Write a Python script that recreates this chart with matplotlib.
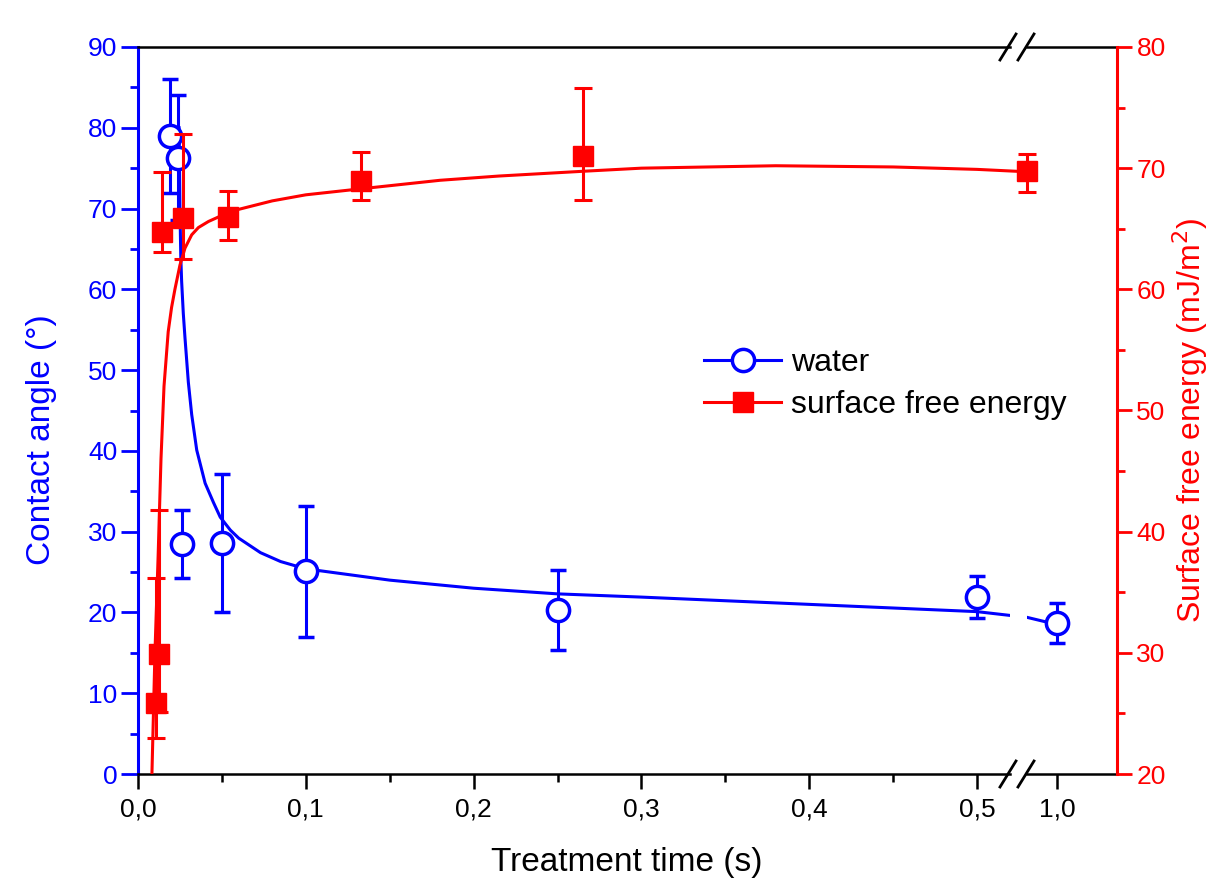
import numpy as np
import matplotlib.pyplot as plt
from matplotlib.lines import Line2D
from matplotlib.ticker import MultipleLocator, FixedLocator, FuncFormatter

plt.rcParams['font.family'] = ['Liberation Sans', 'DejaVu Sans']

# water contact angle (left axis, broken x axis)
water_t = [0.019, 0.024, 0.026, 0.05, 0.1, 0.25, 0.5, 1.0]
water_ca = [79.0, 76.3, 28.5, 28.6, 25.1, 20.3, 21.9, 18.7]
water_err = [7.1, 7.7, 4.2, 8.6, 8.1, 4.9, 2.6, 2.5]

# fit curve for water
water_fit_t = [0.0245, 0.025, 0.0255, 0.026, 0.027, 0.028, 0.030, 0.032, 0.035,
               0.040, 0.045, 0.049, 0.055, 0.060, 0.073, 0.085, 0.100, 0.150,
               0.200, 0.250, 0.300, 0.400, 0.500, 0.521, 0.982, 0.994, 1.0]
water_fit_ca = [80.0, 70.0, 64.0, 61.0, 57.0, 54.0, 48.5, 44.5, 40.1,
                36.0, 33.6, 31.8, 30.2, 29.2, 27.4, 26.3, 25.4, 24.0,
                23.0, 22.3, 21.9, 21.0, 20.1, 19.6, 19.4, 18.8, 18.7]

# surface free energy (right axis, drawn on its own continuous x scale)
sfe_t = [0.0107, 0.0127, 0.0141, 0.0270, 0.0538, 0.1329, 0.2654, 0.530]
sfe = [25.9, 29.9, 64.7, 65.9, 66.0, 68.9, 71.0, 69.8]
sfe_lo = [2.9, 4.8, 1.6, 3.4, 1.9, 1.5, 3.6, 1.8]
sfe_hi = [10.3, 11.9, 5.0, 6.9, 2.1, 2.4, 5.6, 1.4]

sfe_fit_t = [0.0083, 0.0101, 0.0120, 0.0137, 0.0155, 0.018, 0.020, 0.022,
             0.025, 0.028, 0.032, 0.036, 0.042, 0.050, 0.060, 0.080, 0.100,
             0.133, 0.180, 0.215, 0.266, 0.300, 0.380, 0.450, 0.500, 0.530]
sfe_fit = [20.0, 30.0, 38.0, 46.0, 52.0, 56.5, 58.5, 60.0,
           62.0, 63.4, 64.5, 65.1, 65.6, 66.1, 66.6, 67.3, 67.8,
           68.3, 69.0, 69.35, 69.75, 70.0, 70.2, 70.1, 69.9, 69.7]

xticks_left = [0.0, 0.1, 0.2, 0.3, 0.4, 0.5]
xticks_right = [1.0]

W, H = 1214, 885
PX = 1678.0  # pixels per unit of time
x0, x1, y0, y1 = 138, 1117, 47, 774
xl_end, xr_start = 1010, 1027


def rect(a, b):
    return [a / W, (H - y1) / H, (b - a) / W, (y1 - y0) / H]


blue = '#0000ff'
red = '#ff0000'
lw = 2.2
tick_fs = 19
label_fs = 24

fig = plt.figure(figsize=(W / 100, H / 100), dpi=100)
axL = fig.add_axes(rect(x0, xl_end))
axR = fig.add_axes(rect(xr_start, x1))
axE = fig.add_axes(rect(x0, x1))

comma = FuncFormatter(lambda v, p: ('%.1f' % v).replace('.', ','))

for ax in (axL, axR):
    ax.errorbar(water_t, water_ca, yerr=water_err, fmt='o', ms=16, mfc='white',
                mec=blue, mew=2.5, ecolor=blue, elinewidth=lw, capsize=6,
                capthick=lw, zorder=3)
    ax.plot(water_fit_t, water_fit_ca, color=blue, lw=lw, zorder=2)
    ax.set_ylim(0, 90)
    ax.spines['top'].set_linewidth(1.8)
    ax.spines['bottom'].set_linewidth(1.8)
    ax.spines['right'].set_visible(False)
    ax.xaxis.set_major_formatter(comma)
    ax.tick_params(axis='x', which='major', direction='out', length=11, width=1.8,
                   labelsize=tick_fs, pad=6)
    ax.tick_params(axis='x', which='minor', direction='out', length=6, width=1.8)
    ax.tick_params(top=False, which='both')
    ax.patch.set_visible(False)

axL.set_xlim(0, (xl_end - x0) / PX)
axL.xaxis.set_major_locator(FixedLocator(xticks_left))
axL.xaxis.set_minor_locator(MultipleLocator(0.05))
axL.spines['left'].set_color(blue)
axL.spines['left'].set_linewidth(2.2)
axL.yaxis.set_major_locator(MultipleLocator(10))
axL.yaxis.set_minor_locator(MultipleLocator(5))
axL.tick_params(axis='y', which='major', direction='out', length=12, width=2,
                colors=blue, labelsize=tick_fs, pad=3)
axL.tick_params(axis='y', which='minor', direction='out', length=6, width=2, colors=blue)

axR.set_xlim(1.0 - (1057 - xr_start) / PX, 1.0 + (x1 - 1057) / PX)
axR.xaxis.set_major_locator(FixedLocator(xticks_right))
axR.spines['left'].set_visible(False)
axR.tick_params(axis='y', which='both', left=False, labelleft=False)

# red series on a continuous overlay
axE.errorbar(sfe_t, sfe, yerr=[sfe_lo, sfe_hi], fmt='s', ms=14, color=red,
             ecolor=red, elinewidth=lw, capsize=6.5, capthick=lw, zorder=3)
axE.plot(sfe_fit_t, sfe_fit, color=red, lw=lw, zorder=2)
axE.set_xlim(0, (x1 - x0) / PX)
axE.set_ylim(20, 80)
axE.patch.set_visible(False)
for s in ('left', 'top', 'bottom'):
    axE.spines[s].set_visible(False)
axE.spines['right'].set_color(red)
axE.spines['right'].set_linewidth(2.2)
axE.set_xticks([])
axE.yaxis.tick_right()
axE.yaxis.set_major_locator(MultipleLocator(10))
axE.yaxis.set_minor_locator(MultipleLocator(5))
axE.tick_params(axis='y', which='major', direction='out', length=11, width=2,
                colors=red, labelsize=tick_fs, pad=3)
axE.tick_params(axis='y', which='minor', direction='out', length=6, width=2, colors=red)

# axis break marks
for yb in (y0, y1):
    for xb in (xl_end - 2, xr_start - 1):
        fig.add_artist(Line2D([(xb - 8) / W, (xb + 8) / W],
                              [1 - (yb + 13) / H, 1 - (yb - 13) / H],
                              color='black', lw=2, transform=fig.transFigure))

fig.text(42 / W, 1 - 440 / H, 'Contact angle (°)', color=blue, fontsize=label_fs,
         rotation=90, ha='center', va='center')
fig.text(1190 / W, 1 - 420 / H, 'Surface free energy (mJ/m$^2$)', color=red,
         fontsize=23, rotation=90, ha='center', va='center')
fig.text(627 / W, 1 - 862 / H, 'Treatment time (s)', fontsize=label_fs,
         ha='center', va='center')

handles = [
    Line2D([], [], color=blue, lw=lw, marker='o', ms=16, mfc='white', mec=blue, mew=2.5),
    Line2D([], [], color=red, lw=lw, marker='s', ms=14, mfc=red, mec=red),
]
fig.legend(handles, ['water', 'surface free energy'], loc='upper left',
           bbox_to_anchor=(682 / W, 1 - 326 / H), frameon=False, fontsize=23,
           handlelength=2.4, handletextpad=0.3, labelspacing=0.38, borderpad=0.2)

fig.savefig('out.png', dpi=100)
